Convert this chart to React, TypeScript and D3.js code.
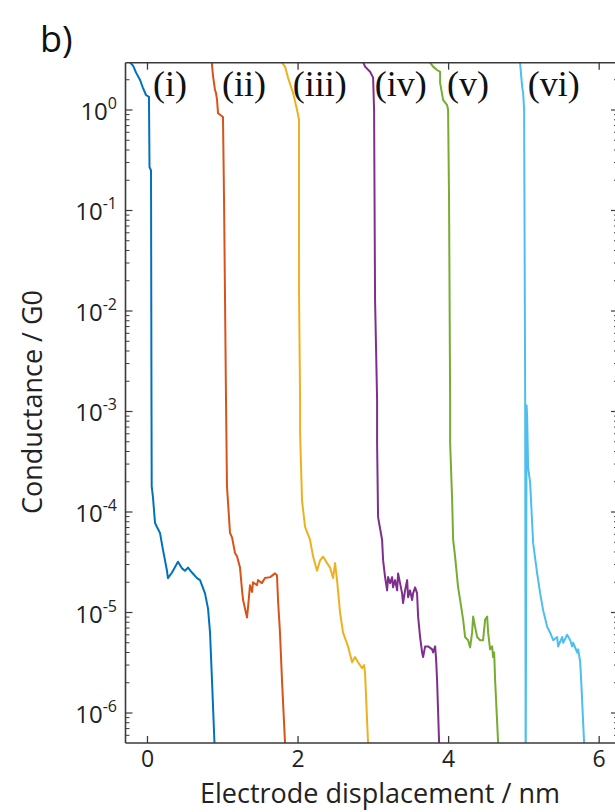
import React from "react";
import * as d3 from "d3";

// ---- data (x in nm, conductance in G0) ----
const traceI: [number, number][] = [
  [-0.27, 3.2], [-0.19, 2.75], [-0.15, 2.34], [-0.1, 2.0], [-0.06, 1.66], [-0.02, 1.41],
  [0.02, 1.35], [0.02, 1.26], [0.027, 0.27], [0.047, 0.25], [0.053, 1.3e-3], [0.056, 1.8e-4],
  [0.073, 1.4e-4], [0.1, 7.8e-5], [0.126, 7.1e-5], [0.166, 6.2e-5], [0.206, 4.2e-5],
  [0.259, 2.6e-5], [0.272, 2.2e-5], [0.326, 2.5e-5], [0.405, 3.2e-5], [0.458, 2.75e-5],
  [0.498, 2.6e-5], [0.538, 2.8e-5], [0.591, 2.5e-5], [0.658, 2.2e-5], [0.698, 2.1e-5],
  [0.764, 1.55e-5], [0.804, 1.1e-5], [0.831, 6.3e-6], [0.857, 2.1e-6], [0.89, 5e-7], [0.9, 3e-7],
];
const traceII: [number, number][] = [
  [0.85, 3.2], [0.87, 2.2], [0.897, 1.58], [0.91, 1.48], [0.924, 1.26], [0.937, 0.93],
  [1.003, 0.85], [1.017, 0.126], [1.03, 0.013], [1.043, 1.3e-3], [1.056, 1.8e-4],
  [1.096, 6.2e-5], [1.123, 5.6e-5], [1.163, 3.9e-5], [1.19, 3.6e-5], [1.229, 2.8e-5],
  [1.256, 1.66e-5], [1.27, 1.33e-5], [1.322, 8.9e-6], [1.336, 1.13e-5], [1.362, 1.87e-5],
  [1.389, 1.6e-5], [1.402, 2.0e-5], [1.455, 1.87e-5], [1.468, 2.1e-5], [1.52, 1.96e-5],
  [1.56, 2.2e-5], [1.63, 2.25e-5], [1.694, 2.45e-5], [1.72, 2.35e-5], [1.734, 1.33e-5],
  [1.76, 6.3e-6], [1.787, 2.1e-6], [1.827, 5e-7], [1.84, 3e-7],
];
const traceIII: [number, number][] = [
  [1.75, 3.2], [1.827, 2.7], [1.867, 2.1], [1.92, 1.58], [1.934, 1.48], [1.987, 1.0],
  [2.013, 0.8], [2.013, 0.016], [2.027, 1.3e-3], [2.027, 6.1e-4], [2.053, 1.3e-4],
  [2.093, 7.1e-5], [2.159, 5.3e-5], [2.2, 3.6e-5], [2.252, 2.6e-5], [2.292, 3.3e-5],
  [2.332, 3.6e-5], [2.385, 3.1e-5], [2.425, 2.8e-5], [2.465, 2.2e-5], [2.492, 3.1e-5],
  [2.518, 2.1e-5], [2.558, 1.0e-5], [2.598, 6.3e-6], [2.664, 4.6e-6], [2.718, 3.2e-6],
  [2.757, 3.6e-6], [2.797, 3.2e-6], [2.85, 2.8e-6], [2.877, 3.0e-6], [2.89, 2.5e-6],
  [2.93, 5e-7], [2.94, 3e-7],
];
const traceIV: [number, number][] = [
  [2.85, 3.2], [2.89, 2.7], [2.957, 2.4], [2.997, 2.1], [3.01, 1.0], [3.023, 0.013],
  [3.05, 1.3e-3], [3.05, 4.9e-4], [3.063, 8.9e-5], [3.116, 5.3e-5], [3.13, 3.3e-5],
  [3.156, 2.25e-5], [3.183, 1.66e-5], [3.196, 2.25e-5], [3.223, 1.96e-5], [3.25, 2.25e-5],
  [3.262, 1.78e-5], [3.289, 2.1e-5], [3.316, 1.66e-5], [3.329, 2.45e-5], [3.355, 1.96e-5],
  [3.382, 1.55e-5], [3.395, 1.24e-5], [3.422, 1.66e-5], [3.449, 2.1e-5], [3.462, 1.42e-5],
  [3.488, 1.66e-5], [3.515, 1.33e-5], [3.528, 1.55e-5], [3.555, 1.78e-5], [3.581, 1.55e-5],
  [3.595, 9.1e-6], [3.621, 5.7e-6], [3.648, 4.0e-6], [3.661, 3.6e-6], [3.688, 4.6e-6],
  [3.728, 4.6e-6], [3.781, 4.3e-6], [3.794, 4.0e-6], [3.821, 4.6e-6], [3.834, 3.4e-6],
  [3.847, 2.1e-6], [3.874, 5e-7], [3.88, 3e-7],
];
const traceV: [number, number][] = [
  [3.72, 3.2], [3.794, 2.7], [3.847, 2.5], [3.887, 2.4], [3.887, 1.86], [3.927, 1.26],
  [3.98, 1.12], [3.993, 1.0], [4.006, 0.126], [4.02, 1.3e-3], [4.02, 4.9e-4], [4.047, 1.3e-4],
  [4.06, 5.3e-5], [4.086, 3.6e-5], [4.126, 1.78e-5], [4.153, 1.33e-5], [4.193, 8.5e-6],
  [4.219, 5.7e-6], [4.259, 5.3e-6], [4.286, 4.5e-6], [4.312, 6.3e-6], [4.326, 9.1e-6],
  [4.352, 7.2e-6], [4.379, 5.7e-6], [4.419, 5.3e-6], [4.458, 5.3e-6], [4.485, 8.5e-6],
  [4.512, 9.1e-6], [4.525, 6.3e-6], [4.551, 4.3e-6], [4.578, 4.6e-6], [4.591, 3.6e-6],
  [4.605, 4.0e-6], [4.618, 2.1e-6], [4.658, 5e-7], [4.665, 3e-7],
];
const traceVI: [number, number][] = [
  [4.945, 3.2], [4.977, 1.7], [4.99, 1.48], [5.003, 1.0], [5.017, 1.3e-3], [5.023, 5e-7],
  [5.024, 3e-7], [5.036, 1.15e-3], [5.043, 8.9e-4], [5.056, 2.8e-4], [5.083, 1.95e-4],
  [5.123, 4.9e-5], [5.176, 2.45e-5], [5.216, 1.55e-5], [5.256, 1.05e-5], [5.309, 7.2e-6],
  [5.349, 6.3e-6], [5.389, 5.3e-6], [5.442, 5.7e-6], [5.455, 4.6e-6], [5.508, 5.7e-6],
  [5.522, 5.0e-6], [5.575, 6.0e-6], [5.615, 5.3e-6], [5.641, 4.6e-6], [5.654, 5.0e-6],
  [5.708, 4.0e-6], [5.721, 4.3e-6], [5.748, 3.2e-6], [5.761, 2.1e-6], [5.8, 5e-7], [5.81, 3e-7],
];

const traces = [traceI, traceII, traceIII, traceIV, traceV, traceVI];
const traceColors = ["#0072BD", "#D95319", "#EDB120", "#7E2F8E", "#77AC30", "#4DBEEE"];
const labelNames = ["(i)", "(ii)", "(iii)", "(iv)", "(v)", "(vi)"];
const labelX = [0.073, 0.99, 1.93, 3.02, 3.98, 5.05];

const xTicks = [0, 2, 4, 6];
const yMajorTicks = [1e-6, 1e-5, 1e-4, 1e-3, 1e-2, 1e-1, 1e0];
const xDomain: [number, number] = [-0.292, 6.25];
const yDomain: [number, number] = [5.03e-7, 2.955];

const W = 615;
const H = 812;
const left = 125.5;
const right = 618;
const top = 62.7;
const bottom = 743;

export default function App() {
  const x = d3.scaleLinear().domain(xDomain).range([left, right]);
  const y = d3.scaleLog().domain(yDomain).range([bottom, top]);
  const line = d3
    .line<[number, number]>()
    .x((d) => x(d[0]))
    .y((d) => y(d[1]));

  const minorTicks: number[] = [];
  for (let e = -7; e <= 0; e++) {
    for (let m = 2; m <= 9; m++) {
      const v = m * Math.pow(10, e);
      if (v > yDomain[0] && v < yDomain[1]) minorTicks.push(v);
    }
  }

  const axisColor = "#3a3a3a";
  const sans = "'Open Sans', 'Noto Sans', sans-serif";

  return (
    <svg
      width={W}
      height={H}
      style={{ position: "absolute", left: 0, top: 0, display: "block", background: "#fff" }}
    >
      <defs>
        <clipPath id="plotclip">
          <rect x={left} y={top} width={right - left} height={bottom - top} />
        </clipPath>
      </defs>
      <rect x={0} y={0} width={W} height={H} fill="#fff" />

      {/* traces */}
      <g clipPath="url(#plotclip)">
        {traces.map((t, i) => (
          <path
            key={i}
            d={line(t) || ""}
            fill="none"
            stroke={traceColors[i]}
            strokeWidth={2}
            strokeLinejoin="round"
          />
        ))}
      </g>

      {/* axes box */}
      <g stroke={axisColor} fill="none">
        <line x1={left} x2={right} y1={top} y2={top} strokeWidth={1.6} />
        <line x1={left} x2={right} y1={bottom} y2={bottom} strokeWidth={1.6} />
        <line x1={left} x2={left} y1={top} y2={bottom} strokeWidth={1.6} />
        <line x1={right} x2={right} y1={top} y2={bottom} strokeWidth={1.6} />
        {xTicks.map((t) => (
          <g key={"xt" + t}>
            <line x1={x(t)} x2={x(t)} y1={bottom} y2={bottom - 7} strokeWidth={1.3} />
            <line x1={x(t)} x2={x(t)} y1={top} y2={top + 7} strokeWidth={1.3} />
          </g>
        ))}
        {yMajorTicks.map((t) => (
          <g key={"ym" + t}>
            <line x1={left} x2={left + 7} y1={y(t)} y2={y(t)} strokeWidth={1.2} />
            <line x1={right} x2={right - 7} y1={y(t)} y2={y(t)} strokeWidth={1.2} />
          </g>
        ))}
        {minorTicks.map((t) => (
          <g key={"yn" + t}>
            <line x1={left} x2={left + 4} y1={y(t)} y2={y(t)} strokeWidth={1} />
            <line x1={right} x2={right - 4} y1={y(t)} y2={y(t)} strokeWidth={1} />
          </g>
        ))}
      </g>

      {/* x tick labels */}
      {xTicks.map((t) => (
        <text
          key={"xl" + t}
          x={x(t)}
          y={767}
          textAnchor="middle"
          fontFamily={sans}
          fontSize={23}
          fill="#222"
        >
          {t}
        </text>
      ))}

      {/* y tick labels */}
      {yMajorTicks.map((t) => (
        <text
          key={"yl" + t}
          x={117}
          y={y(t) + 10}
          textAnchor="end"
          fontFamily={sans}
          fontSize={24}
          fill="#222"
        >
          10
          <tspan fontSize={16} dy={-11}>
            {String(Math.round(Math.log10(t)))}
          </tspan>
        </text>
      ))}

      {/* trace labels */}
      {labelNames.map((n, i) => (
        <text
          key={n}
          x={x(labelX[i])}
          y={96}
          fontFamily="'Liberation Serif', 'Times New Roman', serif"
          fontSize={36}
          fill="#111"
        >
          {n}
        </text>
      ))}

      {/* axis titles */}
      <text
        x={380}
        y={803}
        textAnchor="middle"
        fontFamily={sans}
        fontSize={27}
        fill="#222"
      >
        Electrode displacement / nm
      </text>
      <text
        transform="translate(42,402) rotate(-90)"
        textAnchor="middle"
        fontFamily={sans}
        fontSize={27}
        fill="#222"
      >
        Conductance / G0
      </text>

      {/* panel label */}
      <text x={40} y={52} fontFamily={sans} fontSize={36} fill="#111">
        b)
      </text>
    </svg>
  );
}
